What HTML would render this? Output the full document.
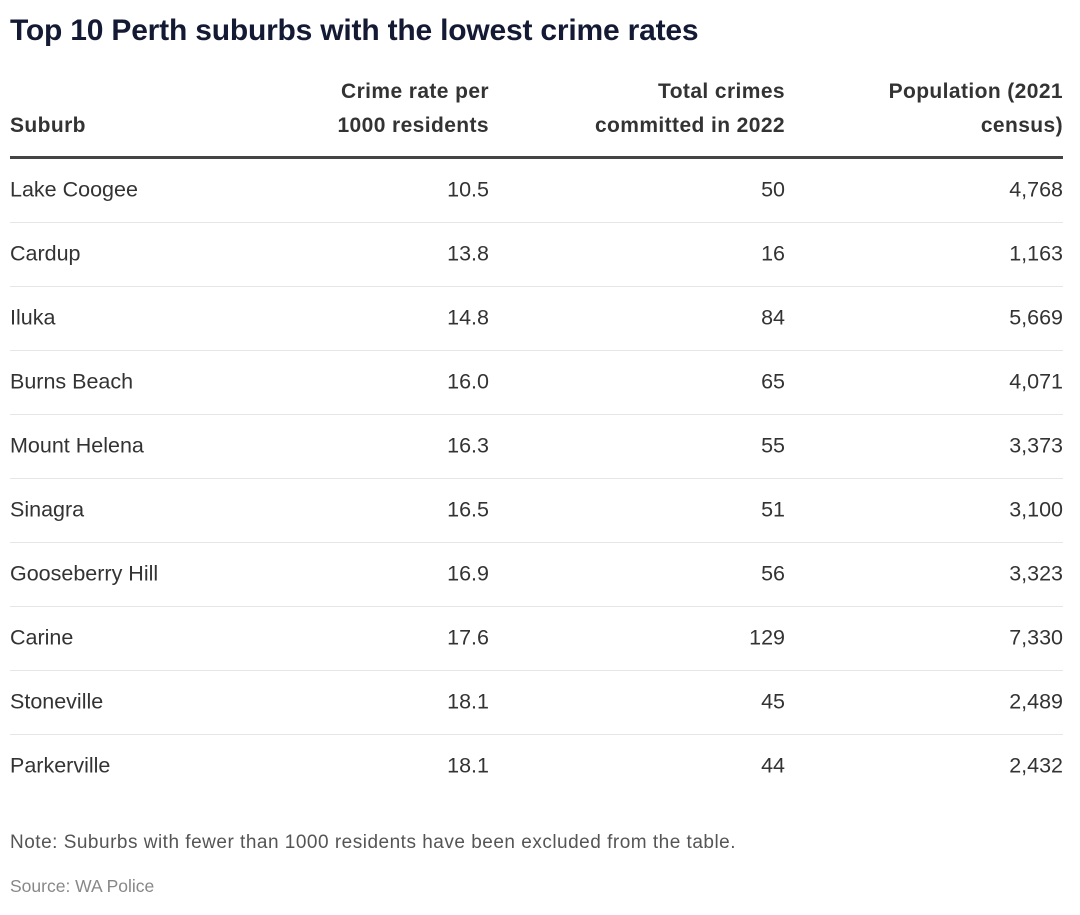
<!DOCTYPE html>
<html><head><style>
body{margin:0;width:1080px;height:915px;background:#fff;font-family:"Liberation Sans",sans-serif;position:relative;overflow:hidden}
.a{position:absolute;white-space:nowrap;line-height:1}
.t{left:10px;top:16px;font-size:30px;font-weight:bold;color:#141a33;letter-spacing:-0.2px}
.h{font-size:21px;font-weight:bold;color:#333;line-height:34px;text-align:right;letter-spacing:0.4px}
.c{font-size:21.5px;color:#333;transform:translateY(-50%)}
.sep{position:absolute;left:10px;width:1053px;height:1px;background:#e6e6e6}
</style></head><body>
<div class="a t">Top 10 Perth suburbs with the lowest crime rates</div>
<div class="a h" style="left:10px;top:109px;text-align:left">Suburb</div>
<div class="a h" style="right:591px;top:75px">Crime rate per<br>1000 residents</div>
<div class="a h" style="right:295px;top:75px">Total crimes<br>committed in 2022</div>
<div class="a h" style="right:17px;top:75px">Population (2021<br>census)</div>
<div style="position:absolute;left:10px;top:156px;width:1053px;height:3px;background:#444"></div>
<div id="rows"></div>
<script>
var d=[["Lake Coogee","10.5","50","4,768"],["Cardup","13.8","16","1,163"],["Iluka","14.8","84","5,669"],["Burns Beach","16.0","65","4,071"],["Mount Helena","16.3","55","3,373"],["Sinagra","16.5","51","3,100"],["Gooseberry Hill","16.9","56","3,323"],["Carine","17.6","129","7,330"],["Stoneville","18.1","45","2,489"],["Parkerville","18.1","44","2,432"]];
var h="";
d.forEach(function(r,i){var y=190+64*i;
h+='<div class="a c" style="left:10px;top:'+y+'px">'+r[0]+'</div>';
h+='<div class="a c" style="right:591px;top:'+y+'px">'+r[1]+'</div>';
h+='<div class="a c" style="right:295px;top:'+y+'px">'+r[2]+'</div>';
h+='<div class="a c" style="right:17px;top:'+y+'px">'+r[3]+'</div>';
if(i<9)h+='<div class="sep" style="top:'+(222+64*i)+'px"></div>';});
document.getElementById("rows").innerHTML=h;
</script>
<div class="a" style="left:10px;top:833px;font-size:19px;color:#555;letter-spacing:0.5px">Note: Suburbs with fewer than 1000 residents have been excluded from the table.</div>
<div class="a" style="left:10px;top:878px;font-size:17.5px;color:#888">Source: WA Police</div>
</body></html>
